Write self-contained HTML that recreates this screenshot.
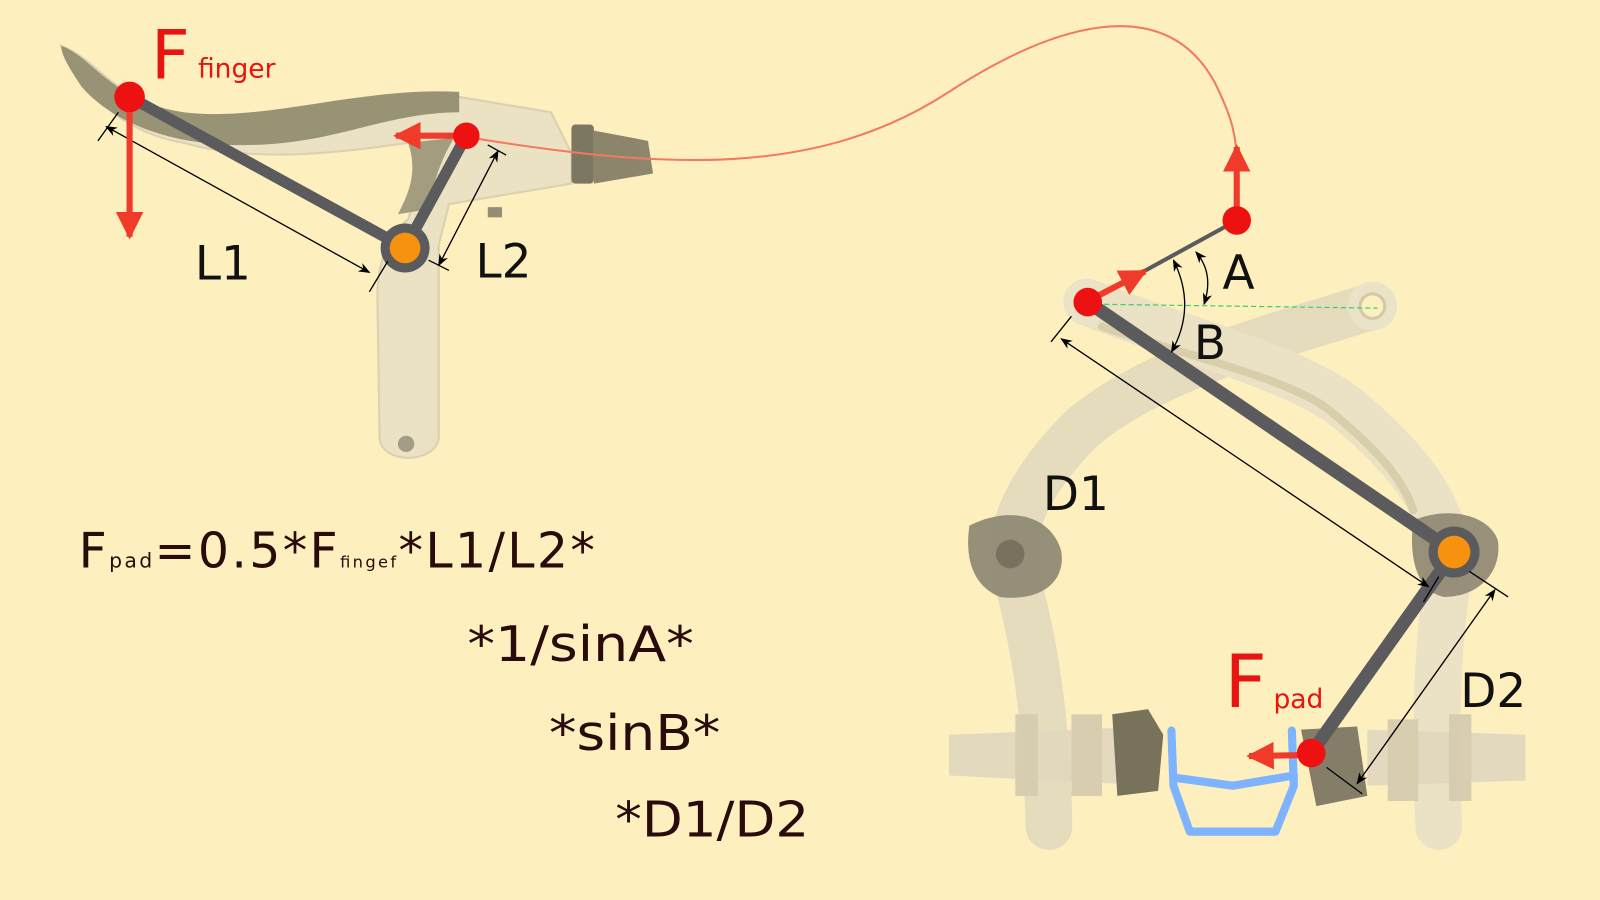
<!DOCTYPE html>
<html><head><meta charset="utf-8"><style>
html,body{margin:0;padding:0;background:#FEF0BE;}
svg{display:block}
text{font-family:"DejaVu Sans","Liberation Sans",sans-serif;}
</style></head><body>
<svg width="1600" height="900" viewBox="0 0 1568 882" xmlns="http://www.w3.org/2000/svg">
<defs>
<marker id="ar" viewBox="0 0 10 10" refX="9" refY="5" markerWidth="4.5" markerHeight="4.5" orient="auto-start-reverse"><path d="M0,0 L10,5 L0,10 z" fill="#f03a2a"/></marker>
<marker id="bk" viewBox="0 0 10 10" refX="9" refY="5" markerWidth="9" markerHeight="9" orient="auto-start-reverse"><path d="M0,1 L10,5 L0,9 L3,5 z" fill="#000"/></marker>
</defs>
<rect width="1568" height="882" fill="#FEF0BE"/>

<!-- lever body -->
<g opacity="0.9">
<path d="M60,45 C100,60 120,110 200,120 C300,120 380,90 450,95 L540,110 L560,150 L560,180 L500,190 L440,200 L430,240 L430,430 C425,455 375,455 372,430 L370,300 C368,260 380,230 400,215 C410,180 420,150 400,140 C330,150 250,160 180,140 C120,130 80,90 60,45 Z" fill="#E9E0C4" stroke="#d8cdae" stroke-width="2"/>
<path d="M60,45 C90,55 110,100 180,110 C260,120 350,85 450,90 L450,110 C380,110 330,140 250,142 C170,145 110,120 80,85 C70,70 60,55 60,45 Z" fill="#8E8A6E"/>
<path d="M400,140 C410,170 400,190 390,210 L420,205 C425,180 430,160 445,135 Z" fill="#9a9478"/>
<rect x="560" y="122" width="22" height="58" rx="4" fill="#6f6a58"/>
<path d="M582,128 L635,138 L640,170 L582,180 Z" fill="#807a64"/>
<circle cx="398" cy="435" r="8" fill="#9a9480"/>
<rect x="478" y="203" width="14" height="10" fill="#8a8470"/>
</g>

<!-- brake arms -->
<g opacity="0.9" fill="none" stroke-linecap="round">
<path d="M1345,300 C1250,330 1130,360 1060,420 C1010,470 985,520 995,560 C1010,620 1025,680 1028,810" stroke="#E3DABD" stroke-width="46"/>
<path d="M1065,296 C1150,330 1270,360 1320,400 C1380,450 1420,500 1420,560 C1410,620 1405,700 1410,810" stroke="#E9E1C6" stroke-width="46"/>
<path d="M1080,320 C1150,345 1260,370 1300,400 C1350,440 1375,470 1385,500" stroke="#d6cba8" stroke-width="8"/>
<circle cx="1065" cy="296" r="22" fill="#EAE2C8"/>
<circle cx="1345" cy="300" r="24" fill="#EAE2C8"/>
<circle cx="1345" cy="300" r="12" fill="#FEF0BE" stroke="#cfc5a5" stroke-width="3"/>
</g>
<g opacity="0.92">
<path d="M930,720 L1130,712 L1135,770 L930,760 Z" fill="#E1D8BE"/>
<rect x="995" y="700" width="22" height="80" fill="#d5cbae"/>
<rect x="1050" y="700" width="30" height="80" fill="#d5cbae"/>
<path d="M1090,700 L1125,695 L1140,720 L1135,775 L1095,780 Z" fill="#6e6852"/>
<path d="M1340,715 L1495,720 L1495,765 L1340,770 Z" fill="#E1D8BE"/>
<rect x="1360" y="705" width="30" height="80" fill="#d5cbae"/>
<rect x="1420" y="700" width="22" height="85" fill="#d5cbae"/>
<path d="M1275,715 L1330,712 L1340,780 L1290,790 Z" fill="#7a7460"/>
<path d="M950,515 C990,495 1030,505 1040,540 C1045,570 1020,590 980,585 C955,575 945,550 950,515 Z" fill="#8f8873"/>
<circle cx="990" cy="543" r="14" fill="#6f6956"/>
<path d="M1385,510 C1420,495 1460,505 1468,530 C1472,560 1450,585 1415,585 C1390,580 1380,550 1385,510 Z" fill="#8f8873"/>
</g>

<!-- blue rim -->
<g fill="none" stroke="#7DB3FF" stroke-width="8" stroke-linejoin="round" stroke-linecap="round">
<path d="M1148,716 L1150,770 L1166,815 L1250,815 L1268,770 L1266,716"/>
<path d="M1150,762 L1208,770 L1268,760"/>
</g>

<!-- cable -->
<path d="M468,136 C650,165 800,175 930,90 C1030,25 1140,-10 1190,80 C1205,110 1212,130 1212,160" fill="none" stroke="#F27A60" stroke-width="2"/>

<!-- green dashed -->
<line x1="1066" y1="298" x2="1350" y2="302" stroke="#3ccf6a" stroke-width="1.2" stroke-dasharray="5,3"/>

<!-- bars -->
<g stroke="#5b5b5e" stroke-linecap="round">
<line x1="127" y1="95" x2="397" y2="243" stroke-width="11"/>
<line x1="397" y1="243" x2="457" y2="133" stroke-width="11"/>
<line x1="1066" y1="296" x2="1212" y2="216" stroke-width="4"/>
<line x1="1066" y1="296" x2="1425" y2="541" stroke-width="13"/>
<line x1="1425" y1="541" x2="1285" y2="738" stroke-width="13"/>
</g>
<circle cx="397" cy="243" r="24" fill="#5b5b5e"/>
<circle cx="397" cy="243" r="15" fill="#F7920E"/>
<circle cx="1425" cy="541" r="25" fill="#5b5b5e"/>
<circle cx="1425" cy="541" r="16" fill="#F7920E"/>

<!-- dimension lines -->
<g stroke="#000" stroke-width="1.3" fill="none">
<line x1="104" y1="124" x2="362" y2="267" marker-start="url(#bk)" marker-end="url(#bk)"/>
<line x1="96" y1="138" x2="116" y2="110"/>
<line x1="362" y1="286" x2="380" y2="256"/>
<line x1="430" y1="260" x2="488" y2="148" marker-start="url(#bk)" marker-end="url(#bk)"/>
<line x1="420" y1="255" x2="440" y2="265"/>
<line x1="478" y1="142" x2="496" y2="152"/>
<line x1="1040" y1="332" x2="1400" y2="575" marker-start="url(#bk)" marker-end="url(#bk)"/>
<line x1="1030" y1="335" x2="1050" y2="310"/>
<line x1="1395" y1="590" x2="1410" y2="565"/>
<line x1="1330" y1="768" x2="1465" y2="578" marker-start="url(#bk)" marker-end="url(#bk)"/>
<line x1="1440" y1="560" x2="1478" y2="585"/>
<line x1="1300" y1="752" x2="1335" y2="778"/>
<path d="M1172,247 C1185,262 1186,280 1180,298" marker-start="url(#bk)" marker-end="url(#bk)"/>
<path d="M1150,255 C1165,285 1165,315 1148,345" marker-start="url(#bk)" marker-end="url(#bk)"/>
</g>

<!-- red arrows -->
<g stroke="#f03a2a" stroke-width="6" fill="none">
<line x1="127" y1="100" x2="127" y2="232" marker-end="url(#ar)"/>
<line x1="455" y1="133" x2="388" y2="133" marker-end="url(#ar)"/>
<line x1="1212" y1="212" x2="1212" y2="144" marker-end="url(#ar)"/>
<line x1="1068" y1="294" x2="1122" y2="266" marker-end="url(#ar)"/>
<line x1="1280" y1="740" x2="1224" y2="741" marker-end="url(#ar)"/>
</g>
<circle cx="127" cy="95" r="15" fill="#ee1111"/>
<circle cx="457" cy="133" r="13" fill="#ee1111"/>
<circle cx="1212" cy="216" r="14" fill="#ee1111"/>
<circle cx="1066" cy="296" r="14" fill="#ee1111"/>
<circle cx="1285" cy="738" r="14" fill="#ee1111"/>

<!-- labels -->
<g fill="#e8140f">
<text x="148" y="77" font-size="66">F</text>
<text x="194" y="76" font-size="26">finger</text>
<text x="1200" y="693" font-size="72">F</text>
<text x="1248" y="694" font-size="26">pad</text>
</g>
<g fill="#111" font-size="46">
<text x="191" y="274">L1</text>
<text x="466" y="272">L2</text>
<text x="1198" y="283">A</text>
<text x="1170" y="352">B</text>
<text x="1022" y="500">D1</text>
<text x="1431" y="693">D2</text>
</g>
<g fill="#2a0b0b" font-size="48">
<text x="77" y="556" textLength="506" lengthAdjust="spacing">F<tspan font-size="20">pad</tspan>=0.5*F<tspan font-size="16">fingef</tspan>*L1/L2*</text>
<text x="458" y="648" textLength="222" lengthAdjust="spacingAndGlyphs">*1/sinA*</text>
<text x="538" y="735" textLength="168" lengthAdjust="spacingAndGlyphs">*sinB*</text>
<text x="603" y="820" textLength="190" lengthAdjust="spacingAndGlyphs">*D1/D2</text>
</g>
</svg>
</body></html>
